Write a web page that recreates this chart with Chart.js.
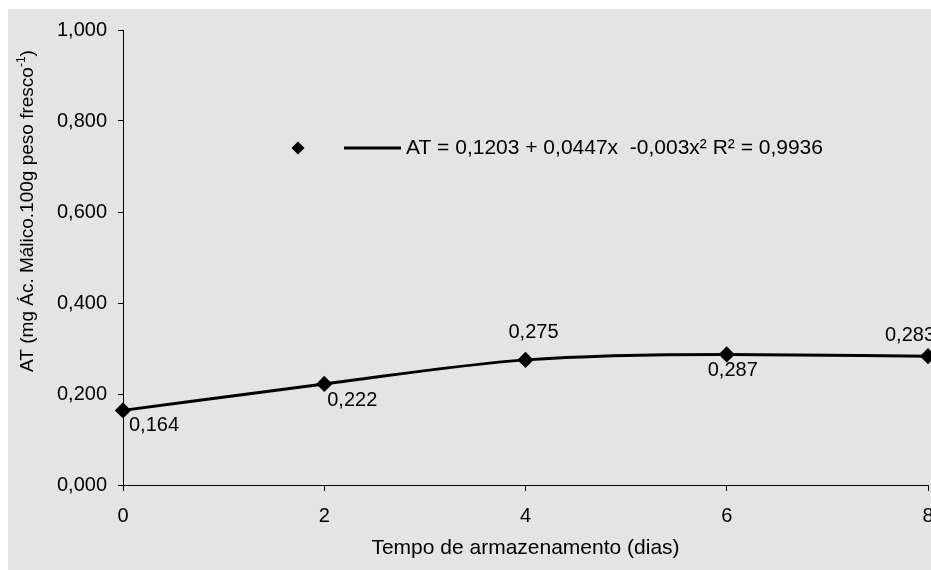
<!DOCTYPE html>
<html>
<head>
<meta charset="utf-8">
<script src="https://cdn.jsdelivr.net/npm/chart.js@4/dist/chart.umd.min.js"></script>
<style>
  html, body { margin: 0; padding: 0; background: #ffffff; }
  #box { position: absolute; left: 8px; top: 9px; width: 923px; height: 561px; background: #e4e4e4; overflow: hidden; }
  canvas { display: block; }
</style>
</head>
<body>
<div id="box"><canvas id="c" width="929" height="561"></canvas></div>
<script>
// ---- data ----
const days = [0, 2, 4, 6, 8];
const atValues = [0.164, 0.222, 0.275, 0.287, 0.283];
const yTicks = [0, 0.2, 0.4, 0.6, 0.8, 1.0];
const xTicks = [0, 2, 4, 6, 8];
const xTitle = 'Tempo de armazenamento (dias)';
const yTitleMain = 'AT (mg Ác. Málico.100g peso fresco';
const yTitleSup = '-1';
const yTitleEnd = ')';
const legendText = 'AT = 0,1203 + 0,0447x  -0,003x² R² = 0,9936';

// label placement per point: [textAlign, dx, dy]
const labelPlacement = [['left', 6, 15], ['left', 3, 16], ['center', 8, -27], ['center', 6, 16], ['center', -18, -21]];

const FONT = '"Liberation Sans", Arial, sans-serif';
const fmt = v => v.toFixed(3).replace('.', ',');

const points = days.map((d, i) => ({ x: d, y: atValues[i] }));

const extras = {
  id: 'extras',
  afterDatasetsDraw(chart) {
    const ctx = chart.ctx;
    const xs = chart.scales.x, ys = chart.scales.y;
    const area = chart.chartArea;
    ctx.save();
    // data labels
    ctx.fillStyle = '#000';
    ctx.font = '20px ' + FONT;
    ctx.textBaseline = 'middle';
    atValues.forEach((v, i) => {
      const px = xs.getPixelForValue(days[i]);
      const py = ys.getPixelForValue(v);
      const [al, dx, dy] = labelPlacement[i];
      ctx.textAlign = al;
      ctx.fillText(fmt(v), px + dx, py + dy);
    });
    // legend
    const ly = area.top + 118;
    const lx = area.left + 175;
    ctx.beginPath();
    const r = 6.5;
    ctx.moveTo(lx, ly - r); ctx.lineTo(lx + r, ly); ctx.lineTo(lx, ly + r); ctx.lineTo(lx - r, ly); ctx.closePath();
    ctx.fill();
    ctx.lineWidth = 3;
    ctx.strokeStyle = '#000';
    ctx.beginPath();
    ctx.moveTo(lx + 46, ly); ctx.lineTo(lx + 103, ly); ctx.stroke();
    ctx.textAlign = 'left';
    ctx.font = '21px ' + FONT;
    ctx.fillText(legendText, lx + 108, ly);
    // y axis title (rotated)
    ctx.translate(20, area.top + 181);
    ctx.rotate(-Math.PI / 2);
    ctx.font = '19px ' + FONT;
    const w1 = ctx.measureText(yTitleMain).width;
    ctx.font = '12px ' + FONT;
    const w2 = ctx.measureText(yTitleSup).width;
    ctx.font = '19px ' + FONT;
    const w3 = ctx.measureText(yTitleEnd).width;
    let sx = -(w1 + w2 + w3) / 2;
    ctx.textAlign = 'left';
    ctx.fillText(yTitleMain, sx, 0);
    sx += w1;
    ctx.font = '12px ' + FONT;
    ctx.fillText(yTitleSup, sx, -6);
    sx += w2;
    ctx.font = '19px ' + FONT;
    ctx.fillText(yTitleEnd, sx, 0);
    ctx.restore();
  }
};

new Chart(document.getElementById('c'), {
  type: 'line',
  data: {
    datasets: [{
      data: points,
      borderColor: '#000',
      backgroundColor: '#000',
      borderWidth: 3,
      pointStyle: 'rectRot',
      pointRadius: 6,
      pointHoverRadius: 6,
      cubicInterpolationMode: 'monotone',
      clip: false
    }]
  },
  options: {
    responsive: false,
    animation: false,
    events: [],
    layout: { padding: { top: 21, right: 0, left: 0, bottom: 0 } },
    plugins: { legend: { display: false }, tooltip: { enabled: false } },
    scales: {
      x: {
        type: 'linear',
        min: 0, max: 8,
        afterBuildTicks: s => { s.ticks = xTicks.map(v => ({ value: v })); },
        afterFit: s => { s.height = 85; s.paddingLeft = 0; s.paddingRight = 0; },
        ticks: { color: '#000', font: { family: FONT, size: 20 }, padding: 13, maxRotation: 0, callback: v => String(v) },
        grid: { drawOnChartArea: false, drawTicks: true, tickLength: 6, color: '#000' },
        border: { display: true, color: '#000', width: 1 },
        title: { display: true, text: xTitle, color: '#000', font: { family: FONT, size: 21 }, padding: { top: 0, bottom: 9 } }
      },
      y: {
        min: 0, max: 1,
        afterBuildTicks: s => { s.ticks = yTicks.map(v => ({ value: v })); },
        afterFit: s => { s.width = 115; s.paddingTop = 0; s.paddingBottom = 0; },
        ticks: { color: '#000', font: { family: FONT, size: 20 }, padding: 11, callback: v => fmt(v) },
        grid: { drawOnChartArea: false, drawTicks: true, tickLength: 5, color: '#000' },
        border: { display: true, color: '#000', width: 1 }
      }
    }
  },
  plugins: [extras]
});
</script>
</body>
</html>
